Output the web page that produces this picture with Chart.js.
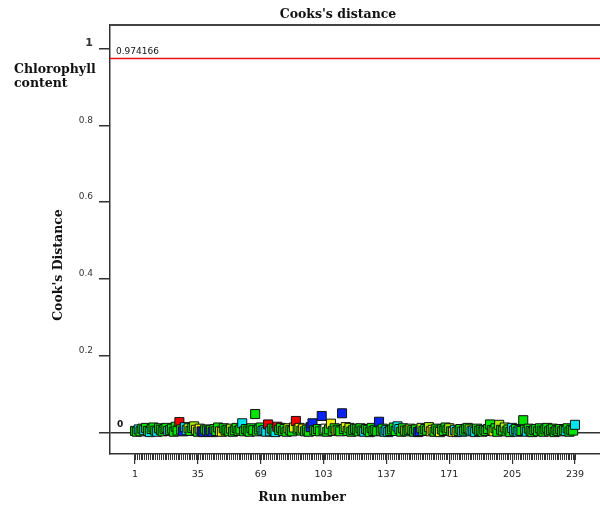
<!DOCTYPE html>
<html>
<head>
<meta charset="utf-8">
<script src="https://cdn.jsdelivr.net/npm/chart.js@4/dist/chart.umd.min.js"></script>
<style>
  body { margin: 0; background: #fff; }
  canvas { display: block; }
</style>
</head>
<body>
<canvas id="chart_cook" width="600" height="510"></canvas>
<script>
// Cook's distance per run (1..239)
var cooks = [
  0.004, 0.002, 0.008, 0.003, 0.010, 0.006, 0.012, 0.004, 0.001, 0.009,
  0.013, 0.005, 0.002, 0.011, 0.007, 0.003, 0.009, 0.012, 0.004, 0.006,
  0.010, 0.002, 0.015, 0.005, 0.027, 0.008, 0.003, 0.014, 0.006, 0.011,
  0.004, 0.012, 0.016, 0.007, 0.002, 0.010, 0.003, 0.001, 0.008, 0.005,
  0.002, 0.006, 0.001, 0.009, 0.004, 0.013, 0.003, 0.002, 0.011, 0.005,
  0.007, 0.003, 0.010, 0.002, 0.006, 0.012, 0.004, 0.008, 0.024, 0.003,
  0.009, 0.005, 0.002, 0.011, 0.006, 0.048, 0.003, 0.008, 0.013, 0.004,
  0.006, 0.002, 0.021, 0.003, 0.010, 0.005, 0.001, 0.015, 0.007, 0.012,
  0.004, 0.009, 0.002, 0.011, 0.006, 0.003, 0.013, 0.030, 0.008, 0.012,
  0.005, 0.010, 0.003, 0.007, 0.002, 0.014, 0.024, 0.006, 0.004, 0.009,
  0.003, 0.043, 0.006, 0.010, 0.002, 0.008, 0.023, 0.004, 0.011, 0.005,
  0.007, 0.003, 0.050, 0.009, 0.014, 0.004, 0.012, 0.002, 0.006, 0.010,
  0.008, 0.003, 0.011, 0.005, 0.002, 0.009, 0.006, 0.001, 0.012, 0.004,
  0.007, 0.003, 0.028, 0.005, 0.010, 0.002, 0.006, 0.001, 0.004, 0.008,
  0.013, 0.004, 0.016, 0.009, 0.002, 0.011, 0.005, 0.003, 0.007, 0.010,
  0.006, 0.002, 0.008, 0.001, 0.003, 0.012, 0.004, 0.009, 0.005, 0.014,
  0.003, 0.007, 0.002, 0.010, 0.005, 0.001, 0.008, 0.004, 0.013, 0.006,
  0.011, 0.003, 0.002, 0.007, 0.001, 0.004, 0.009, 0.002, 0.005, 0.010,
  0.012, 0.008, 0.003, 0.005, 0.001, 0.010, 0.004, 0.006, 0.002, 0.007,
  0.004, 0.009, 0.021, 0.006, 0.003, 0.011, 0.002, 0.020, 0.007, 0.005,
  0.013, 0.003, 0.008, 0.001, 0.012, 0.005, 0.009, 0.002, 0.006, 0.004,
  0.032, 0.007, 0.002, 0.010, 0.004, 0.001, 0.006, 0.009, 0.003, 0.011,
  0.005, 0.002, 0.008, 0.012, 0.003, 0.007, 0.010, 0.001, 0.006, 0.004,
  0.009, 0.003, 0.006, 0.004, 0.011, 0.002, 0.007, 0.005, 0.020
];

// colour group of each run (0 blue, 1 cyan, 2 green, 3 lime, 4 yellow, 5 red, 6 white)
var grupo = [
  2,2,1,2,2,1,2,2,1,2,  2,2,1,2,2,2,2,2,1,2,  2,2,2,2,5,2,0,1,1,3,
  2,2,3,4,2,4,0,0,2,2,  0,2,0,2,2,2,4,4,2,2,  2,2,3,2,2,2,2,2,1,2,
  2,2,2,2,2,2,2,2,2,1,  1,1,5,1,2,2,1,5,2,2,  2,2,2,3,2,2,4,5,2,4,
  2,4,2,2,2,0,0,2,2,2,  2,0,2,6,2,2,4,2,2,4,  2,2,0,2,4,2,3,2,2,2,
  2,2,2,2,1,2,2,2,2,2,  2,2,0,2,2,1,1,1,2,2,  2,2,1,1,2,2,3,2,2,3,
  2,2,2,0,0,3,2,2,2,3,  4,4,2,2,2,4,2,2,2,2,  3,2,4,1,4,2,2,1,2,2,
  2,3,1,1,1,2,2,2,2,2,  2,2,2,2,4,2,2,3,2,2,  3,2,2,2,1,1,2,1,1,2,
  2,2,1,2,2,2,2,2,2,2,  2,2,2,2,2,2,2,2,2,2,  2,2,2,1,2,2,2,2,1
];

var xTicks = [1, 35, 69, 103, 137, 171, 205, 239];
var yTicks = [0, 0.2, 0.4, 0.6, 0.8, 1];
var limite = 0.974166;

var cores = ['#0a24f0', '#00e4ee', '#00e400', '#a8f000', '#f2f200', '#f00000', '#ffffff'];

var pontos = [];
for (var i = 0; i < cooks.length; i++) {
    pontos.push({ x: i + 1, y: cooks[i] });
}

// texts, reference line and minor ticks
const extras = {
    id: 'extras',
    afterDraw(chart) {
        const ctx = chart.ctx;
        const area = chart.chartArea;
        const xs = chart.scales.x;
        const ys = chart.scales.y;
        ctx.save();

        // top border
        ctx.strokeStyle = '#444';
        ctx.lineWidth = 2;
        ctx.beginPath();
        ctx.moveTo(area.left, area.top);
        ctx.lineTo(area.right, area.top);
        ctx.stroke();

        // red limit line
        const yl = ys.getPixelForValue(limite);
        ctx.strokeStyle = '#ee1111';
        ctx.lineWidth = 1.5;
        ctx.beginPath();
        ctx.moveTo(area.left, yl);
        ctx.lineTo(area.right, yl);
        ctx.stroke();

        ctx.fillStyle = '#111';
        ctx.font = '9px "DejaVu Sans"';
        ctx.textAlign = 'left';
        ctx.textBaseline = 'bottom';
        ctx.fillText(limite.toString(), area.left + 6, yl - 2);

        // zero label inside the plot
        ctx.font = 'bold 9px "DejaVu Sans"';
        ctx.fillText('0', area.left + 7, ys.getPixelForValue(0) - 3);

        // minor ticks, one per run
        ctx.strokeStyle = '#333';
        ctx.lineWidth = 1;
        for (var r = 1; r <= cooks.length; r++) {
            const px = Math.round(xs.getPixelForValue(r)) + 0.5;
            ctx.beginPath();
            ctx.moveTo(px, area.bottom);
            ctx.lineTo(px, area.bottom + 6);
            ctx.stroke();
        }

        // titles
        ctx.fillStyle = '#111';
        ctx.font = 'bold 12.5px "DejaVu Serif"';
        ctx.textAlign = 'center';
        ctx.textBaseline = 'middle';
        ctx.fillText("Cooks's distance", 338, 15);
        ctx.fillText('Run number', 302, 498);

        ctx.textAlign = 'left';
        ctx.fillText('Chlorophyll', 14, 70);
        ctx.fillText('content', 14, 84);

        ctx.translate(59, 265);
        ctx.rotate(-Math.PI / 2);
        ctx.textAlign = 'center';
        ctx.fillText("Cook's Distance", 0, 0);

        ctx.restore();
    }
};

const config_cook = {
    type: 'scatter',
    data: {
        datasets: [{
            label: "Cook's distance",
            data: pontos,
            pointStyle: 'rect',
            pointRadius: 6.4,
            pointHoverRadius: 6.4,
            pointBackgroundColor: grupo.map(function (g) { return cores[g]; }),
            pointBorderColor: '#111',
            pointBorderWidth: 1
        }]
    },
    options: {
        responsive: false,
        animation: false,
        devicePixelRatio: 1,
        layout: {
            autoPadding: false,
            padding: { top: 25, right: 0, left: 0, bottom: 0 }
        },
        plugins: {
            legend: { display: false },
            tooltip: { enabled: false }
        },
        scales: {
            x: {
                type: 'linear',
                min: -12.52,
                max: 252.52,
                afterBuildTicks: function (scale) {
                    scale.ticks = xTicks.map(function (v) { return { value: v }; });
                },
                afterFit: function (scale) {
                    scale.height = 56;
                    scale.paddingLeft = 0;
                    scale.paddingRight = 0;
                },
                grid: {
                    drawOnChartArea: false,
                    color: '#333',
                    tickLength: 10,
                    lineWidth: 1.2
                },
                border: { display: true, color: '#333', width: 1.5 },
                ticks: {
                    autoSkip: false,
                    maxRotation: 0,
                    padding: 5,
                    color: '#222',
                    font: { family: 'DejaVu Sans', size: 9.5 }
                }
            },
            y: {
                min: -0.056,
                max: 1.0612,
                afterBuildTicks: function (scale) {
                    scale.ticks = yTicks.map(function (v) { return { value: v }; });
                },
                afterFit: function (scale) {
                    scale.width = 110;
                    scale.paddingTop = 0;
                    scale.paddingBottom = 0;
                },
                grid: {
                    color: function (c) {
                        return c.tick && c.tick.value === 0 ? '#333' : 'rgba(0,0,0,0)';
                    },
                    tickColor: '#333',
                    tickLength: 11,
                    lineWidth: 1.5
                },
                border: { display: true, color: '#333', width: 1.5 },
                ticks: {
                    padding: 6,
                    labelOffset: -5,
                    color: '#333',
                    callback: function (v) {
                        if (v === 0) return '';
                        if (v === 1) return '1';
                        return v.toFixed(1);
                    },
                    font: function (c) {
                        if (c.tick && c.tick.value === 1) {
                            return { family: 'DejaVu Sans', size: 11, weight: 'bold' };
                        }
                        return { family: 'DejaVu Sans', size: 9 };
                    }
                }
            }
        }
    },
    plugins: [extras]
};

const chart_cook = new Chart(
    document.getElementById('chart_cook'),
    config_cook
);
</script>
</body>
</html>
